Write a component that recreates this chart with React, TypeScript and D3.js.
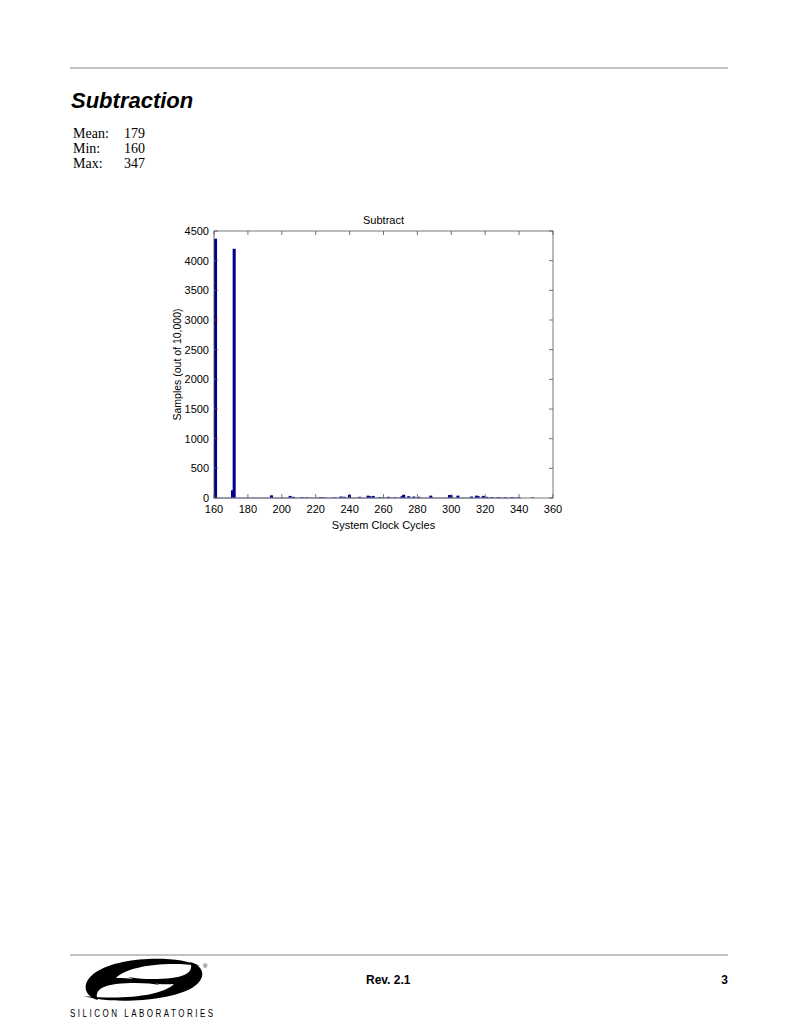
import { scaleLinear } from 'd3'

// histogram bins (system clock cycles) and sample counts out of 10,000
const cycles = [
  160, 170, 171, 193, 204, 206, 211, 214, 222, 224, 230, 234, 236, 239, 245, 250, 251, 253, 257, 262,
  266, 270, 271, 274, 277, 280, 287, 298, 299, 303, 311, 314, 315, 318, 320, 323, 327, 331, 335, 339, 347,
]
const samples = [
  4370, 130, 4200, 45, 35, 20, 12, 12, 15, 12, 10, 25, 20, 55, 20, 40, 30, 35, 15, 20,
  12, 30, 55, 30, 25, 20, 40, 50, 45, 40, 25, 40, 30, 35, 20, 15, 15, 12, 15, 10, 8,
]
const xTicks = [160, 180, 200, 220, 240, 260, 280, 300, 320, 340, 360]
const yTicks = [0, 500, 1000, 1500, 2000, 2500, 3000, 3500, 4000, 4500]
const stats = [
  { label: 'Mean:', value: '179' },
  { label: 'Min:', value: '160' },
  { label: 'Max:', value: '347' },
]

const plot = { left: 214, right: 553, top: 231, bottom: 498 }
const sans = '"Liberation Sans", Arial, sans-serif'
const serif = '"Liberation Serif", "Times New Roman", serif'
const barColor = '#00008b'

const App = () => {
  const x = scaleLinear().domain([160, 360]).range([plot.left, plot.right])
  const y = scaleLinear().domain([0, 4500]).range([plot.bottom, plot.top])
  const barW = x(161.8) - x(160)
  const tick = 4

  return (
    <div style={{ position: 'absolute', left: 0, top: 0 }}>
      <svg width={800} height={1035} viewBox="0 0 800 1035" style={{ display: 'block', background: 'white' }}>
        {/* header */}
        <line x1={70} x2={728} y1={68} y2={68} stroke="#888" strokeWidth={1.2} />
        <text x={71} y={108} fontFamily={sans} fontSize={22} fontWeight="bold" fontStyle="italic">
          Subtraction
        </text>
        {stats.map((s, i) => (
          <g key={s.label} fontFamily={serif} fontSize={14}>
            <text x={73} y={138 + i * 15}>{s.label}</text>
            <text x={124} y={138 + i * 15}>{s.value}</text>
          </g>
        ))}

        {/* chart */}
        <text x={(plot.left + plot.right) / 2} y={224} textAnchor="middle" fontFamily={sans} fontSize={11}>
          Subtract
        </text>

        {cycles.map((c, i) => (
          <rect
            key={c}
            x={x(c)}
            y={y(samples[i])}
            width={barW}
            height={y(0) - y(samples[i])}
            fill={barColor}
          />
        ))}
        <line x1={x(160)} x2={x(341)} y1={y(0)} y2={y(0)} stroke="#8c8cd0" strokeWidth={1.2} />

        <rect
          x={plot.left}
          y={plot.top}
          width={plot.right - plot.left}
          height={plot.bottom - plot.top}
          fill="none"
          stroke="#555"
          strokeWidth={0.8}
        />
        {xTicks.map((t) => (
          <g key={t}>
            <line x1={x(t)} x2={x(t)} y1={plot.bottom} y2={plot.bottom - tick} stroke="#555" strokeWidth={0.8} />
            <line x1={x(t)} x2={x(t)} y1={plot.top} y2={plot.top + tick} stroke="#555" strokeWidth={0.8} />
            <text x={x(t)} y={plot.bottom + 15} textAnchor="middle" fontFamily={sans} fontSize={11}>
              {t}
            </text>
          </g>
        ))}
        {yTicks.map((t) => (
          <g key={t}>
            <line x1={plot.left} x2={plot.left + tick} y1={y(t)} y2={y(t)} stroke="#555" strokeWidth={0.8} />
            <line x1={plot.right} x2={plot.right - tick} y1={y(t)} y2={y(t)} stroke="#555" strokeWidth={0.8} />
            <text x={plot.left - 5} y={y(t)} dy="0.35em" textAnchor="end" fontFamily={sans} fontSize={11}>
              {t}
            </text>
          </g>
        ))}
        <text x={(plot.left + plot.right) / 2} y={529} textAnchor="middle" fontFamily={sans} fontSize={11}>
          System Clock Cycles
        </text>
        <text
          transform={`translate(181, ${(plot.top + plot.bottom) / 2}) rotate(-90)`}
          textAnchor="middle"
          fontFamily={sans}
          fontSize={10.5}
        >
          Samples (out of 10,000)
        </text>

        {/* footer */}
        <line x1={70} x2={728} y1={955} y2={955} stroke="#888" strokeWidth={1.2} />
        <text x={366} y={984} fontFamily={sans} fontSize={12} fontWeight="bold">
          Rev. 2.1
        </text>
        <text x={728} y={984} textAnchor="end" fontFamily={sans} fontSize={12} fontWeight="bold">
          3
        </text>

        {/* logo */}
        <g fill="black">
          <path d="M200,966 C178,955 120,956 96,972 C80,983 84,996 98,1000 C94,992 100,986 116,984 C134,982 150,983 160,985 C146,979 128,978 116,978 C128,966 166,961 200,966 Z" />
          <path d="M84,996 C108,1004 168,1002 192,988 C208,978 204,966 190,962 C194,970 188,976 172,978 C154,980 138,979 128,977 C142,983 160,985 174,984 C162,996 122,1000 84,996 Z" />
        </g>
        <text x={203} y={968} fontFamily={sans} fontSize={6}>®</text>
        <text
          x={70}
          y={1017}
          fontFamily={sans}
          fontSize={10}
          textLength={179}
          lengthAdjust="spacing"
          transform="translate(70 1017) scale(0.8 1.15) translate(-70 -1017)"
        >
          SILICON LABORATORIES
        </text>
      </svg>
    </div>
  )
}

export default App
